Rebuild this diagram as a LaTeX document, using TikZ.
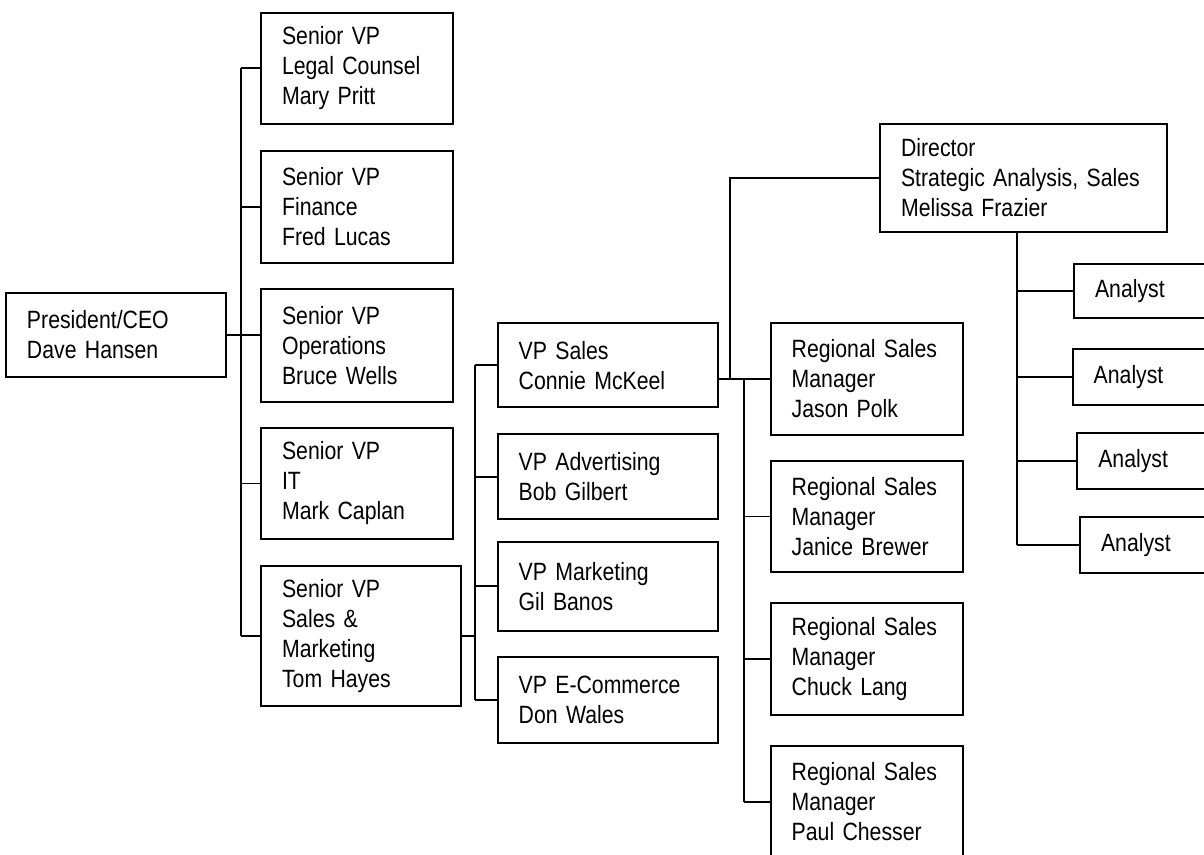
\documentclass[tikz,border=0pt]{standalone}
\usepackage{fontspec}
\setmainfont{Liberation Sans}[FakeStretch=0.85]
\usepackage{tikz}

\tikzset{
	post/.style 2 args={draw, line width=1.8pt, align=left, anchor=center,
		inner xsep=21pt, inner ysep=0pt, text width=#1, minimum height=#2},
	link/.style={line width=1.8pt}
}

\begin{document}
\begin{tikzpicture}[x=1pt, y=-1pt, font=\fontsize{25}{30}\selectfont]
		
			\useasboundingbox (0,0) rectangle (1204,854);
			\clip (0,0) rectangle (1204,854);
			
			\node[post={178pt}{84pt}] (pres) at (116,334.7) {President/CEO\\Dave Hansen};
			
			\node[post={150.3pt}{111.3pt}] (legal) at (357.2,68.3) {Senior VP\\Legal Counsel\\Mary Pritt};
			\node[post={150.3pt}{112pt}] (finance) at (357.2,207) {Senior VP\\Finance\\Fred Lucas};
			\node[post={150.3pt}{112.4pt}] (ops) at (357.2,345.5) {Senior VP\\Operations\\Bruce Wells};
			\node[post={150.3pt}{111.6pt}] (it) at (357.2,483.5) {Senior VP\\IT\\Mark Caplan};
			\node[post={157.7pt}{140pt}] (sm) at (360.9,636) {Senior VP\\Sales \&\\Marketing\\Tom Hayes};
			
			\node[post={178.6pt}{84pt}] (vpsales) at (608,365.3) {VP Sales\\Connie McKeel};
			\node[post={178.6pt}{85pt}] (vpadv) at (608,476.8) {VP Advertising\\Bob Gilbert};
			\node[post={178.6pt}{89pt}] (vpmkt) at (608,586.3) {VP Marketing\\Gil Banos};
			\node[post={178.6pt}{86pt}] (vpecom) at (608,700.3) {\mbox{VP E-Commerce}\\Don Wales};
			
			\node[post={150pt}{112.6pt}] (r1) at (866.7,379) {Regional Sales\\Manager\\Jason Polk};
			\node[post={150pt}{111.6pt}] (r2) at (866.7,516.5) {Regional Sales\\Manager\\Janice Brewer};
			\node[post={150pt}{111.7pt}] (r3) at (866.7,659.2) {Regional Sales\\Manager\\Chuck Lang};
			\node[post={150pt}{112pt}] (r4) at (866.7,802) {Regional Sales\\Manager\\Paul Chesser};
			
			\node[post={245.3pt}{107.7pt}] (dir) at (1023.7,177.8) {Director\\Strategic Analysis, Sales\\Melissa Frazier};
			
			\node[post={98pt}{54pt}] (a1) at (1144,291.3) {Analyst};
			\node[post={98pt}{56pt}] (a2) at (1142.7,377) {Analyst};
			\node[post={98pt}{56.3pt}] (a3) at (1147.3,460.9) {Analyst};
			\node[post={98pt}{55.4pt}] (a4) at (1150,545) {Analyst};
			
			% trunk lines
			\coordinate (st) at (241,0);
			\coordinate (vt) at (475,0);
			\coordinate (rt) at (744,0);
			\coordinate (dl) at (730,0);
			\coordinate (at) at (1017,0);
			
			\draw[link] (pres.east) -- (pres.east -| ops.west);
			\draw[link] (legal.west -| st) -- (sm.west -| st);
			\foreach \n in {legal,finance,it,sm}
				\draw[link] (\n.west) -- (\n.west -| st);
			
			\draw[link] (sm.east) -- (sm.east -| vt);
			\draw[link] (vpsales.west -| vt) -- (vpecom.west -| vt);
			\foreach \n in {vpsales,vpadv,vpmkt,vpecom}
				\draw[link] (\n.west) -- (\n.west -| vt);
			
			\draw[link] (vpsales.east |- r1.west) -- (r1.west);
			\draw[link] (r1.west -| rt) -- (r4.west -| rt);
			\foreach \n in {r2,r3,r4}
				\draw[link] (\n.west) -- (\n.west -| rt);
			
			\draw[link] (dir.west) -| (dl |- r1.west);
			\draw[link] (dir.south -| at) -- (a4.west -| at);
			\foreach \n in {a1,a2,a3,a4}
				\draw[link] (\n.west) -- (\n.west -| at);
		\end{tikzpicture}
\end{document}
